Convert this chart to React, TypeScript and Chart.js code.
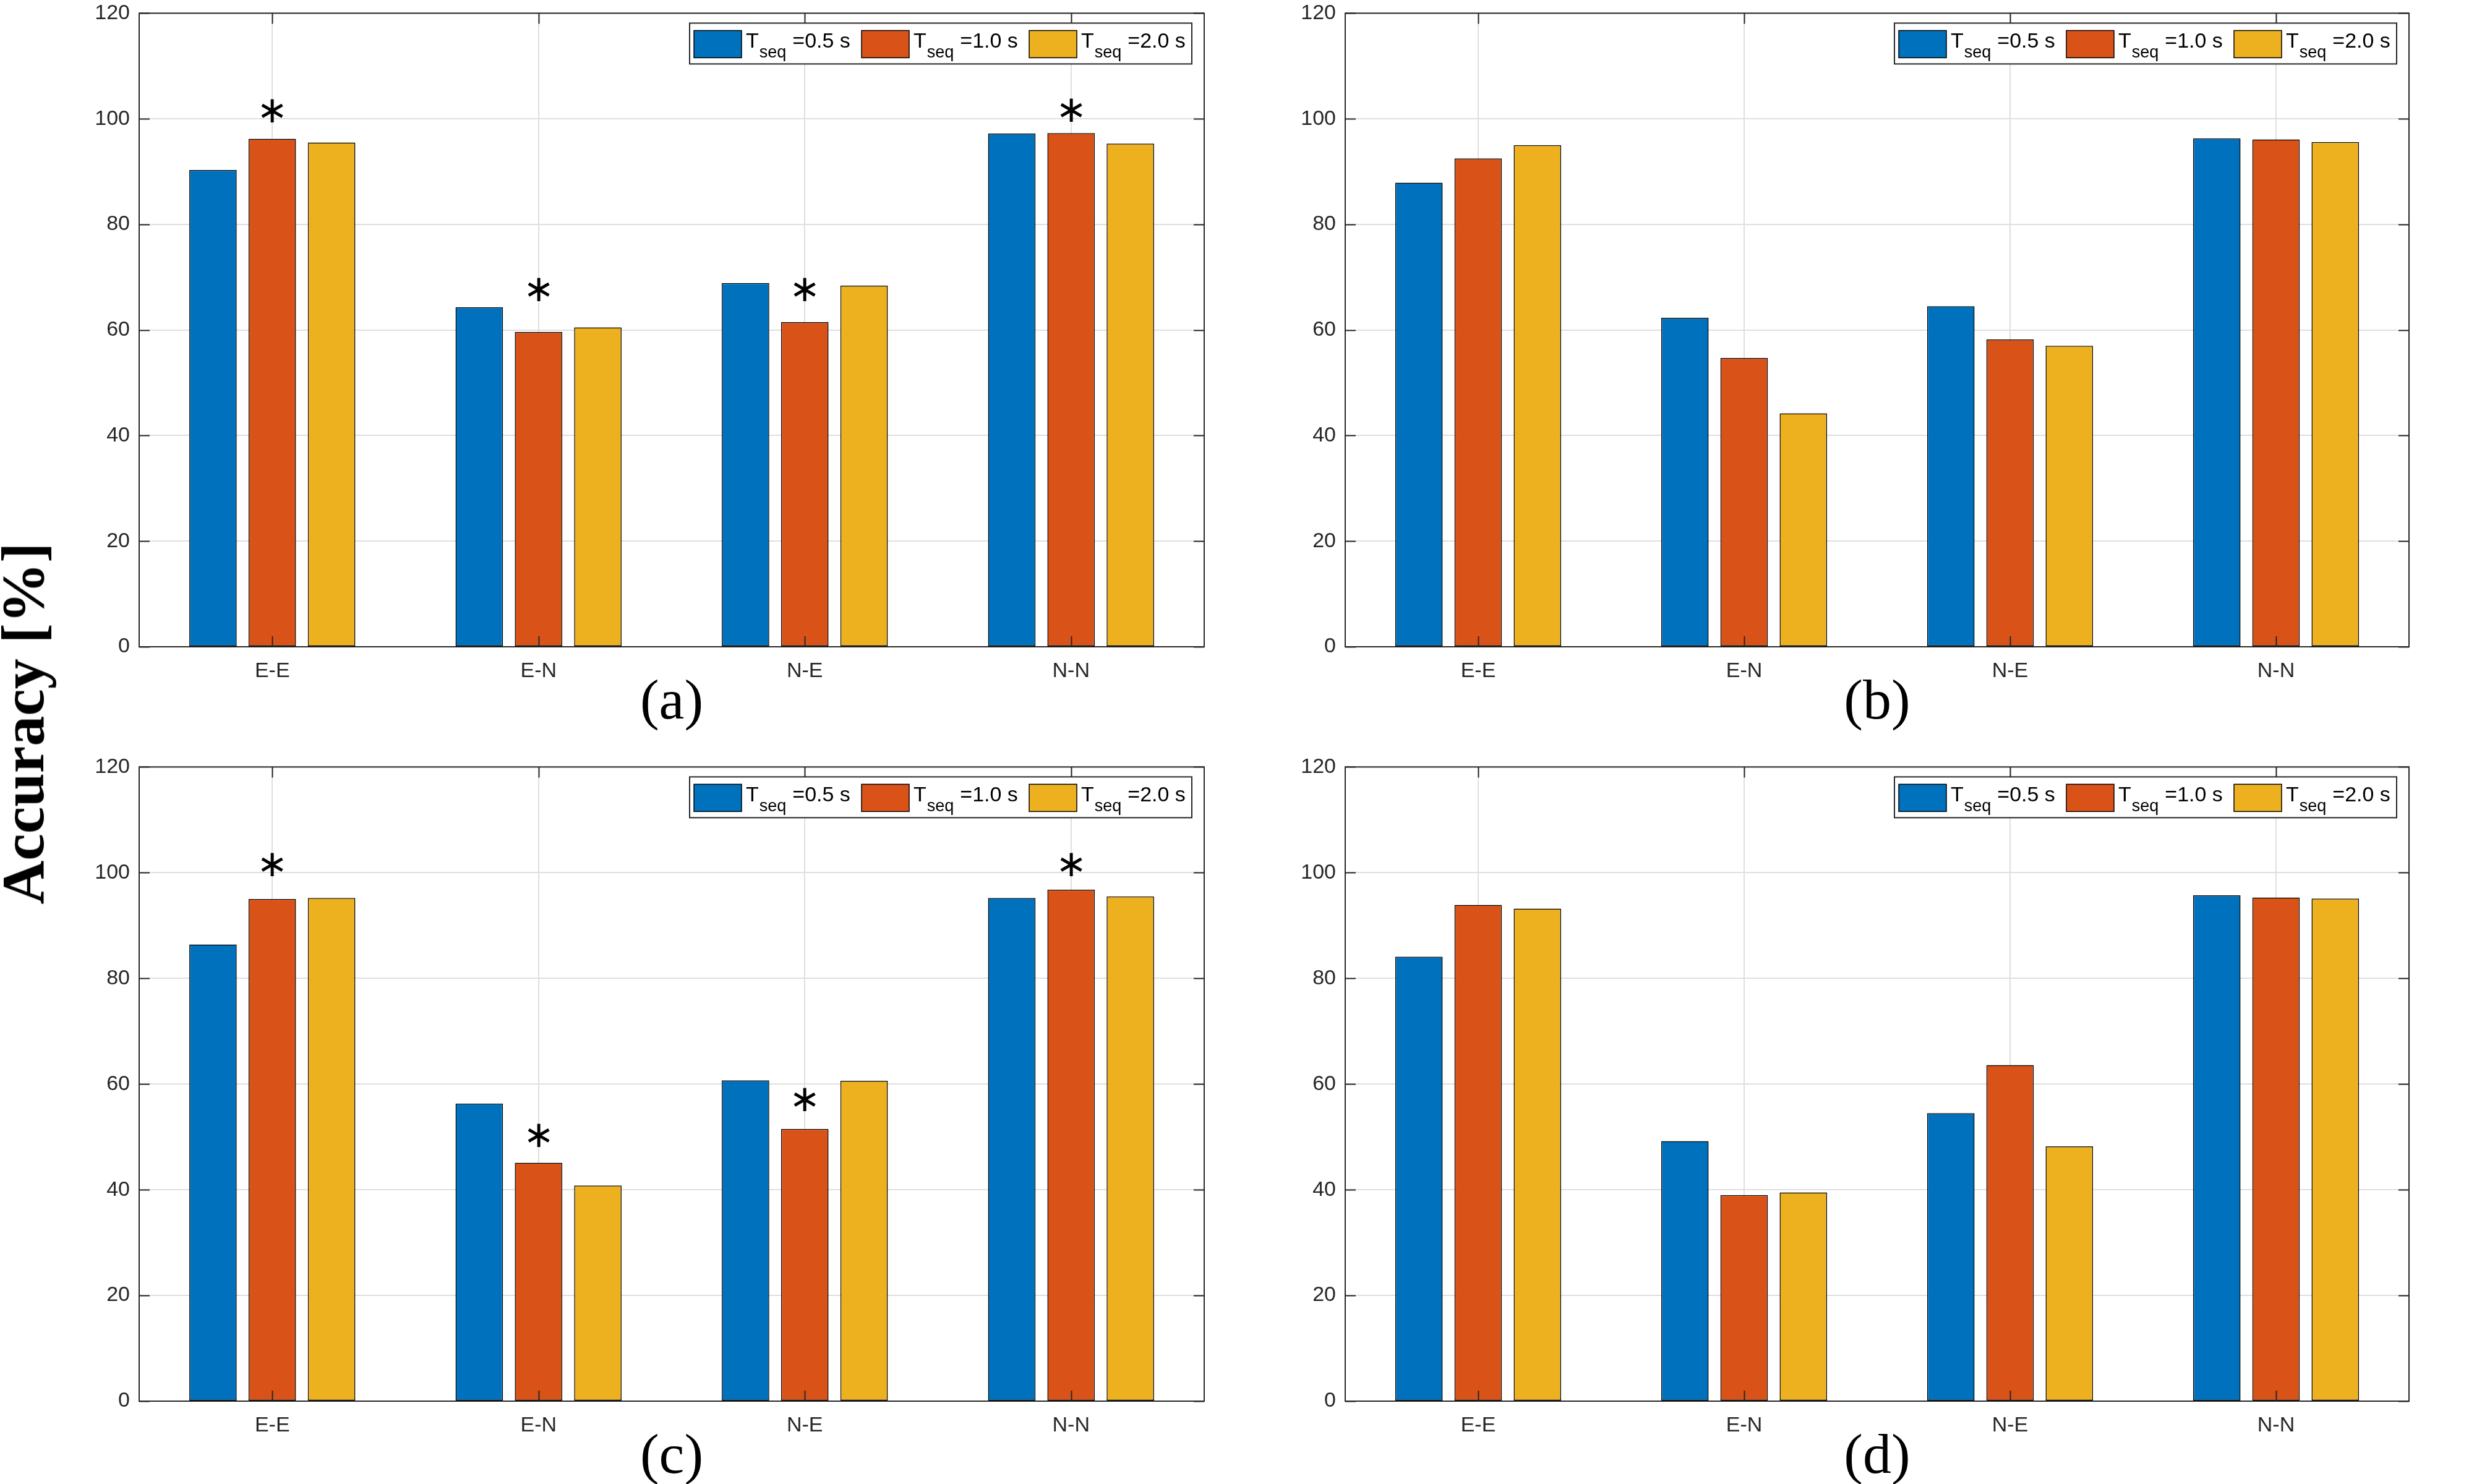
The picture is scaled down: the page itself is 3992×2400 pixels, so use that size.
import React, { useEffect, useRef } from "react";
import { Chart, registerables } from "chart.js";

Chart.register(...registerables);

// ---------- data ----------
const categories = ["E-E", "E-N", "N-E", "N-N"];
const tseqValues = ["0.5", "1.0", "2.0"];
const yTickValues = [0, 20, 40, 60, 80, 100, 120];

// panel (a)
const aBlue = [90.3, 64.3, 68.9, 97.2];
const aOrange = [96.2, 59.6, 61.5, 97.3];
const aYellow = [95.5, 60.5, 68.4, 95.3];
const aStars = [101.5, 67.7, 67.7, 101.7];

// panel (b)
const bBlue = [87.9, 62.3, 64.5, 96.3];
const bOrange = [92.5, 54.7, 58.2, 96.1];
const bYellow = [95.0, 44.2, 57.0, 95.6];

// panel (c)
const cBlue = [86.4, 56.3, 60.7, 95.2];
const cOrange = [95.0, 45.1, 51.5, 96.8];
const cYellow = [95.2, 40.8, 60.6, 95.5];
const cStars = [101.6, 50.3, 57.1, 101.6];

// panel (d)
const dBlue = [84.1, 49.2, 54.5, 95.7];
const dOrange = [93.9, 39.0, 63.6, 95.3];
const dYellow = [93.2, 39.5, 48.2, 95.1];

// ---------- style ----------
const COLORS = ["#0072BD", "#D95319", "#EDB120"];
const AXIS = "#262626";
const GRID = "#dfdfdf";
const SANS = "'Liberation Sans', Arial, sans-serif";
const SERIF = "'Liberation Serif', 'Times New Roman', serif";
const Y_AXIS_W = 200;
const X_AXIS_H = 80;
const PAD_TOP = 30;
const PAD_RIGHT = 30;
const TICK = 17;

type Geom = { left: number; top: number; right: number; bottom: number };

const boxPlugin = {
  id: "matlabBox",
  afterDatasetsDraw(chart: any) {
    const { ctx, chartArea: a, scales } = chart;
    ctx.save();
    ctx.strokeStyle = AXIS;
    ctx.lineWidth = 2;
    ctx.strokeRect(a.left, a.top, a.right - a.left, a.bottom - a.top);
    ctx.beginPath();
    yTickValues.forEach((v) => {
      const y = Math.round(scales.y.getPixelForValue(v)) + 0.5;
      ctx.moveTo(a.left, y);
      ctx.lineTo(a.left + TICK, y);
      ctx.moveTo(a.right, y);
      ctx.lineTo(a.right - TICK, y);
    });
    categories.forEach((_, i) => {
      const x = Math.round(scales.x.getPixelForValue(i)) + 0.5;
      ctx.moveTo(x, a.bottom);
      ctx.lineTo(x, a.bottom - TICK);
      ctx.moveTo(x, a.top);
      ctx.lineTo(x, a.top + TICK);
    });
    ctx.stroke();
    ctx.restore();
  },
};

function makeStarsPlugin(stars: number[] | null) {
  return {
    id: "stars",
    afterDatasetsDraw(chart: any) {
      if (!stars) return;
      const { ctx, scales } = chart;
      ctx.save();
      ctx.fillStyle = "#000";
      ctx.font = `60px ${SANS}`;
      ctx.textBaseline = "alphabetic";
      ctx.textAlign = "left";
      stars.forEach((v, i) => {
        const x = scales.x.getPixelForValue(i);
        const y = scales.y.getPixelForValue(v);
        const m = ctx.measureText("∗");
        const w = m.actualBoundingBoxRight + m.actualBoundingBoxLeft;
        const h = m.actualBoundingBoxAscent + m.actualBoundingBoxDescent;
        ctx.fillText(
          "∗",
          x - w / 2 + m.actualBoundingBoxLeft,
          y + h / 2 - m.actualBoundingBoxDescent
        );
      });
      ctx.restore();
    },
  };
}

const legendPlugin = {
  id: "matlabLegend",
  afterDraw(chart: any) {
    const { ctx, chartArea: a } = chart;
    const boxW = 812;
    const boxH = 66;
    const bx = a.right - 20 - boxW;
    const by = a.top + 16;
    ctx.save();
    ctx.fillStyle = "#fff";
    ctx.fillRect(bx, by, boxW, boxH);
    ctx.strokeStyle = AXIS;
    ctx.lineWidth = 2;
    ctx.strokeRect(bx, by, boxW, boxH);
    const offsets = [7, 278, 549];
    tseqValues.forEach((t, i) => {
      const sx = bx + offsets[i];
      const sy = by + 12;
      ctx.fillStyle = COLORS[i];
      ctx.fillRect(sx, sy, 77, 44);
      ctx.strokeStyle = "#000";
      ctx.lineWidth = 1.5;
      ctx.strokeRect(sx, sy, 77, 44);
      ctx.fillStyle = "#000";
      ctx.textBaseline = "alphabetic";
      ctx.textAlign = "left";
      let tx = sx + 77 + 7;
      const base = by + 40;
      ctx.font = `34px ${SANS}`;
      ctx.fillText("T", tx, base);
      tx += ctx.measureText("T").width + 1;
      ctx.font = `27px ${SANS}`;
      ctx.fillText("seq", tx, base + 16);
      tx += ctx.measureText("seq").width + 10;
      ctx.font = `34px ${SANS}`;
      ctx.fillText(`=${t} s`, tx, base);
    });
    ctx.restore();
  },
};

function Panel({
  geom,
  blue,
  orange,
  yellow,
  stars,
  tag,
}: {
  geom: Geom;
  blue: number[];
  orange: number[];
  yellow: number[];
  stars: number[] | null;
  tag: string;
}) {
  const ref = useRef<HTMLCanvasElement>(null);
  const cw = Y_AXIS_W + (geom.right - geom.left) + PAD_RIGHT;
  const ch = PAD_TOP + (geom.bottom - geom.top) + X_AXIS_H;
  useEffect(() => {
    const series = [blue, orange, yellow];
    const chart = new Chart(ref.current as HTMLCanvasElement, {
      type: "bar",
      data: {
        labels: categories,
        datasets: series.map((d, i) => ({
          label: `T_seq =${tseqValues[i]} s`,
          data: d,
          backgroundColor: COLORS[i],
          borderColor: "#000",
          borderWidth: 1.5,
          borderSkipped: false,
          categoryPercentage: 0.668,
          barPercentage: 0.8,
        })),
      },
      options: {
        responsive: false,
        animation: false,
        devicePixelRatio: 1,
        layout: { padding: { top: PAD_TOP, right: PAD_RIGHT, left: 0, bottom: 0 } },
        plugins: { legend: { display: false }, tooltip: { enabled: false } },
        scales: {
          x: {
            grid: { offset: false, color: GRID, lineWidth: 2, drawTicks: false },
            border: { display: false },
            ticks: { padding: 19, color: AXIS, font: { family: SANS, size: 34 } },
            afterFit: (s: any) => {
              s.height = X_AXIS_H;
            },
          },
          y: {
            min: 0,
            max: 120,
            grid: { color: GRID, lineWidth: 2, drawTicks: false },
            border: { display: false },
            ticks: { padding: 15, color: AXIS, font: { family: SANS, size: 34 } },
            afterBuildTicks: (s: any) => {
              s.ticks = yTickValues.map((v) => ({ value: v }));
            },
            afterFit: (s: any) => {
              s.width = Y_AXIS_W;
            },
          },
        },
      } as any,
      plugins: [boxPlugin, makeStarsPlugin(stars), legendPlugin],
    });
    return () => chart.destroy();
  }, []);
  const cx = (geom.left + geom.right) / 2;
  return (
    <>
      <canvas
        ref={ref}
        width={cw}
        height={ch}
        style={{
          position: "absolute",
          left: geom.left - Y_AXIS_W,
          top: geom.top - PAD_TOP,
          width: cw,
          height: ch,
        }}
      />
      <div
        style={{
          position: "absolute",
          left: cx,
          top: geom.bottom + 85,
          transform: "translate(-50%, -50%)",
          font: `92px ${SERIF}`,
          lineHeight: "92px",
          whiteSpace: "nowrap",
          color: "#000",
        }}
      >
        {tag}
      </div>
    </>
  );
}

const GEOMS: Geom[] = [
  { left: 225, top: 16, right: 1947, bottom: 1046 },
  { left: 2175, top: 16, right: 3895, bottom: 1046 },
  { left: 225, top: 1235, right: 1947, bottom: 2266 },
  { left: 2175, top: 1235, right: 3895, bottom: 2266 },
];

export default function App() {
  return (
    <div
      style={{
        position: "absolute",
        left: 0,
        top: 0,
        width: 3992,
        height: 2400,
        background: "#fff",
        overflow: "hidden",
      }}
    >
      <Panel geom={GEOMS[0]} blue={aBlue} orange={aOrange} yellow={aYellow} stars={aStars} tag="(a)" />
      <Panel geom={GEOMS[1]} blue={bBlue} orange={bOrange} yellow={bYellow} stars={null} tag="(b)" />
      <Panel geom={GEOMS[2]} blue={cBlue} orange={cOrange} yellow={cYellow} stars={cStars} tag="(c)" />
      <Panel geom={GEOMS[3]} blue={dBlue} orange={dOrange} yellow={dYellow} stars={null} tag="(d)" />
      <div
        style={{
          position: "absolute",
          left: 37,
          top: 1170,
          transform: "translate(-50%, -50%) rotate(-90deg)",
          font: `bold 98px ${SERIF}`,
          lineHeight: "98px",
          whiteSpace: "nowrap",
          color: "#000",
        }}
      >
        Accuracy [%]
      </div>
    </div>
  );
}
